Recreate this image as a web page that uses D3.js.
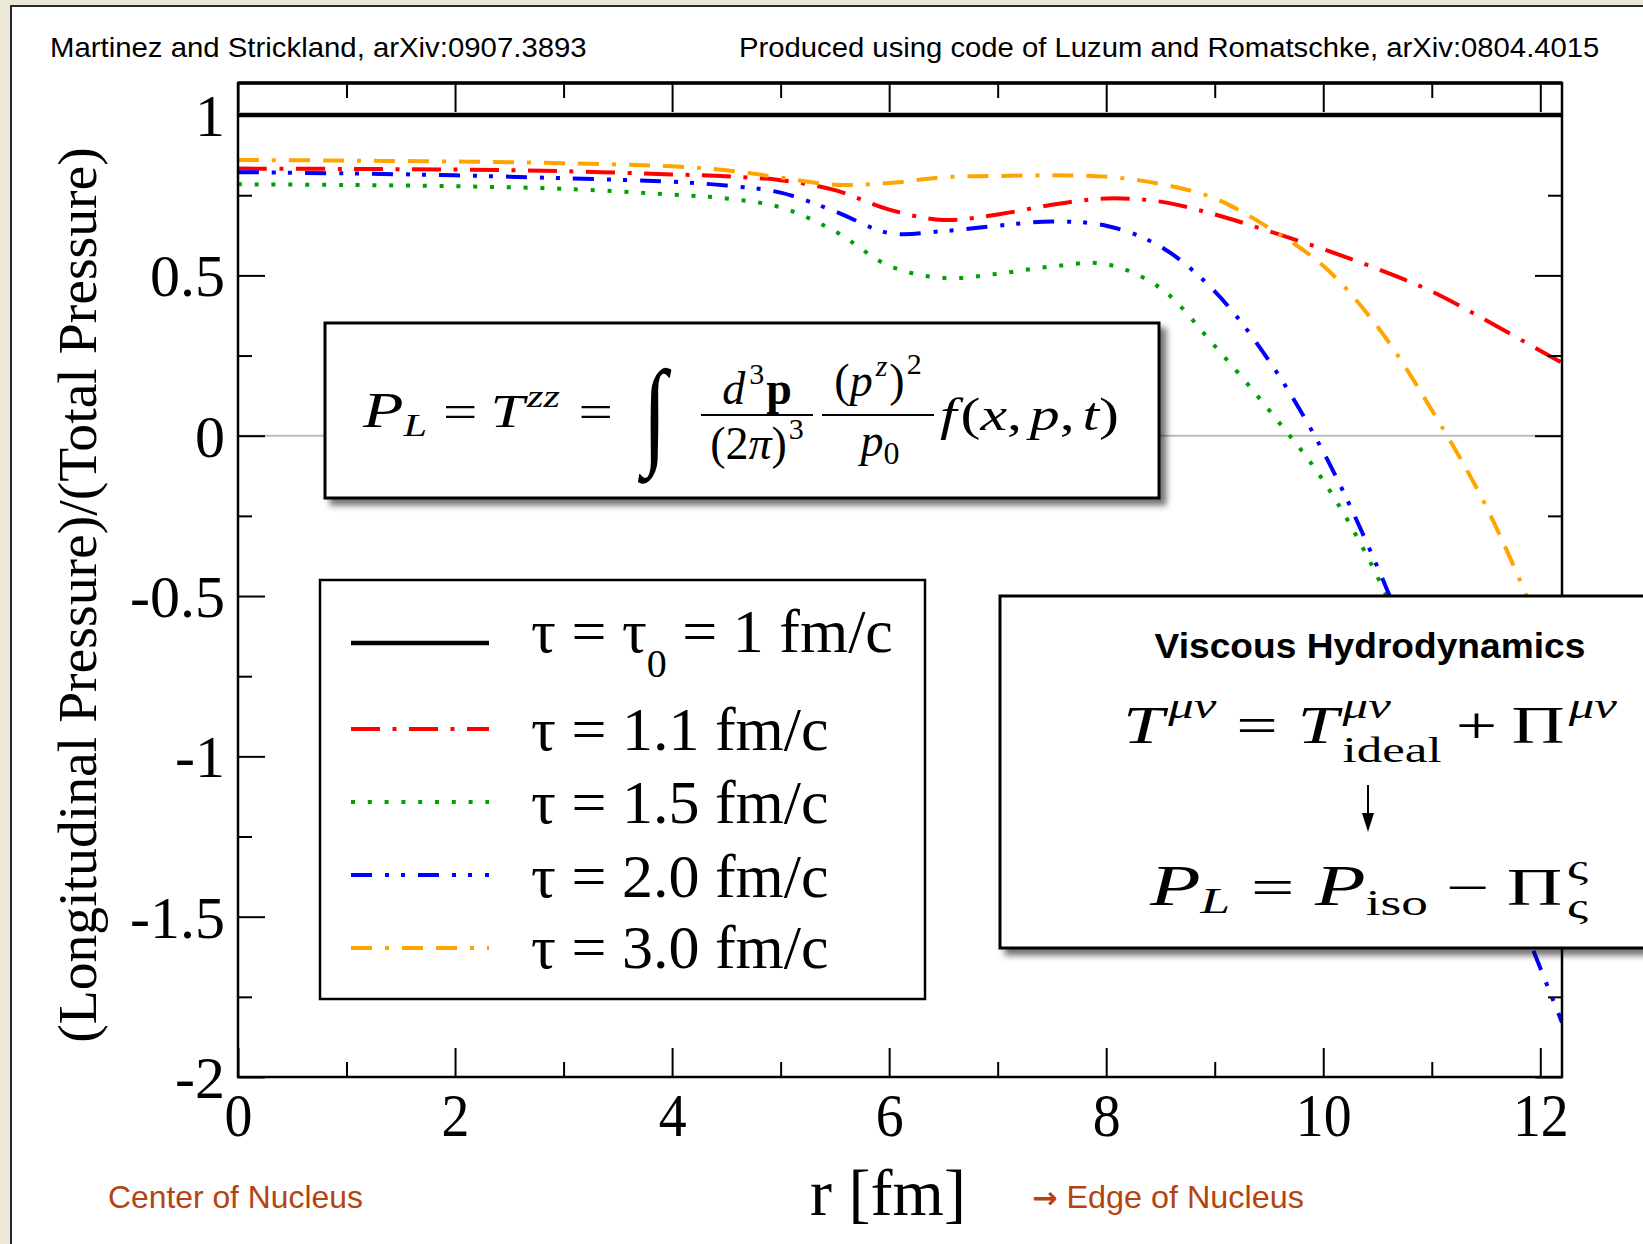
<!DOCTYPE html>
<html>
<head>
<meta charset="utf-8">
<script src="https://cdn.jsdelivr.net/npm/d3@7"></script>
<style>
  body { margin: 0; background: #fff; }
  svg { display: block; }
</style>
</head>
<body>
<svg id="chart" width="1643" height="1244"></svg>
<script>
// ---- data: ratio of longitudinal to total pressure vs. radius r [fm] ----
const radius = [0, 1, 2, 3, 4, 4.5, 5, 5.5, 6, 6.5, 7, 7.5, 8, 8.5, 9, 9.5, 10, 10.5, 11, 11.5, 12, 12.2];
const radiusTau10 = [0, 12.2];
const ratioTau10 = [1, 1];
const ratioTau11 = [0.833, 0.832, 0.830, 0.825, 0.815, 0.809, 0.797, 0.766, 0.705, 0.673, 0.690, 0.720, 0.740, 0.730, 0.690, 0.638, 0.582, 0.520, 0.450, 0.360, 0.265, 0.228];
const radiusTau15 = [0, 1, 2, 3, 4, 4.5, 5, 5.5, 6, 6.5, 7, 7.5, 8, 8.5, 9, 9.5, 10, 10.5, 11, 11.5];
const ratioTau15 = [0.784, 0.782, 0.778, 0.770, 0.752, 0.740, 0.712, 0.638, 0.530, 0.492, 0.505, 0.528, 0.535, 0.460, 0.280, 0.080, -0.140, -0.440, -0.850, -1.350];
const ratioTau20 = [0.822, 0.818, 0.812, 0.803, 0.792, 0.780, 0.758, 0.700, 0.632, 0.638, 0.655, 0.668, 0.655, 0.590, 0.450, 0.234, -0.050, -0.410, -0.830, -1.240, -1.660, -1.830];
const ratioTau30 = [0.860, 0.858, 0.855, 0.850, 0.840, 0.828, 0.805, 0.783, 0.788, 0.806, 0.810, 0.812, 0.808, 0.785, 0.740, 0.648, 0.530, 0.340, 0.080, -0.220, -0.600, -0.760];

const tauValues = ["1", "1.1", "1.5", "2.0", "3.0"];

// axis ticks
const xMajor = [0, 2, 4, 6, 8, 10, 12];
const xMinor = [1, 3, 5, 7, 9, 11];
const xTickLabels = ["0", "2", "4", "6", "8", "10", "12"];
const yMajor = [-2, -1.5, -1, -0.5, 0, 0.5, 1];
const yMinor = [-1.75, -1.25, -0.75, -0.25, 0.25, 0.75];
const yTickLabels = ["-2", "-1.5", "-1", "-0.5", "0", "0.5", "1"];

// ---- styles ----
const seriesColors = ["#000000", "#ff0000", "#00a000", "#0000ff", "#ffa500"];
const seriesDashes = [null, "29,12.5,4,12.5", "4,12.8", "21,13,4,12,4,13", "21,13,4,13,21,13"];
const seriesWidths = [4.5, 4, 4, 4, 4];
const SERIF = "'Liberation Serif', 'Times New Roman', serif";
const SANS = "'Liberation Sans', Arial, sans-serif";

const series = [
  { r: radiusTau10, v: ratioTau10 },
  { r: radius, v: ratioTau11 },
  { r: radiusTau15, v: ratioTau15 },
  { r: radius, v: ratioTau20 },
  { r: radius, v: ratioTau30 }
];

const W = 1643, H = 1244;
const M = { left: 238, right: 1562, top: 83, bottom: 1077 };
const x = d3.scaleLinear().domain([0, 12.2]).range([M.left, M.right]);
const y = d3.scaleLinear().domain([-2, 1.1]).range([M.bottom, M.top]);

const svg = d3.select("#chart");
const defs = svg.append("defs");
const shadow = defs.append("filter").attr("id", "shadow")
  .attr("x", "-5%").attr("y", "-10%").attr("width", "115%").attr("height", "130%");
shadow.append("feDropShadow").attr("dx", 6).attr("dy", 6).attr("stdDeviation", 3)
  .attr("flood-color", "#000").attr("flood-opacity", 0.55);
defs.append("clipPath").attr("id", "plotClip").append("rect")
  .attr("x", M.left).attr("y", M.top)
  .attr("width", M.right - M.left).attr("height", M.bottom - M.top);

// page background and panel
svg.append("rect").attr("width", W).attr("height", H).attr("fill", "#ece9d8");
svg.append("rect").attr("x", 11).attr("y", 6).attr("width", W).attr("height", H)
  .attr("fill", "#fff").attr("stroke", "#2a2a2a").attr("stroke-width", 2);

// helper: text scaled horizontally to a target width
function fitText(parent, str, px, py, targetW, attrs, rotate) {
  const g = parent.append("g");
  const t = g.append("text").attr("x", 0).attr("y", 0).text(str);
  Object.entries(attrs).forEach(([k, v]) => t.attr(k, v));
  const w = t.node().getComputedTextLength();
  const sx = targetW ? targetW / w : 1;
  g.attr("transform", `translate(${px},${py})` + (rotate ? ` rotate(${rotate})` : "") + ` scale(${sx},1)`);
  return g;
}

// header notes
fitText(svg, "Martinez and Strickland, arXiv:0907.3893", 50, 57, 537,
  { "font-family": SANS, "font-size": 28, fill: "#000" });
fitText(svg, "Produced using code of Luzum and Romatschke, arXiv:0804.4015", 739, 57, 861,
  { "font-family": SANS, "font-size": 28, fill: "#000" });

// zero reference line
svg.append("line").attr("x1", x(0)).attr("x2", x(12.2)).attr("y1", y(0)).attr("y2", y(0))
  .attr("stroke", "#bdbdbd").attr("stroke-width", 2);

// curves
const line = d3.line().x(d => x(d[0])).y(d => y(d[1])).curve(d3.curveCatmullRom.alpha(0.5));
const curves = svg.append("g").attr("clip-path", "url(#plotClip)");
series.forEach((s, i) => {
  const pts = s.r.map((r, j) => [r, s.v[j]]);
  curves.append("path").datum(pts).attr("d", line)
    .attr("fill", "none").attr("stroke", seriesColors[i])
    .attr("stroke-width", seriesWidths[i])
    .attr("stroke-dasharray", seriesDashes[i])
    .attr("stroke-linecap", "butt");
});

// axes (ticks point inward)
function styleAxis(g) {
  g.select(".domain").remove();
  g.selectAll("line").attr("stroke", "#000").attr("stroke-width", 2);
}
const xb = svg.append("g").attr("transform", `translate(0,${M.bottom})`)
  .call(d3.axisBottom(x).tickValues(xMajor).tickSize(-29).tickFormat((d, i) => xTickLabels[i]));
styleAxis(xb);
xb.selectAll("text").attr("font-family", SERIF).attr("font-size", 62).attr("fill", "#000")
  .attr("y", 59).attr("dy", null).attr("transform", "scale(0.9,1)");
const xbm = svg.append("g").attr("transform", `translate(0,${M.bottom})`)
  .call(d3.axisBottom(x).tickValues(xMinor).tickSize(-15).tickFormat(""));
styleAxis(xbm);
const xt = svg.append("g").attr("transform", `translate(0,${M.top})`)
  .call(d3.axisTop(x).tickValues(xMajor).tickSize(-29).tickFormat(""));
styleAxis(xt);
const xtm = svg.append("g").attr("transform", `translate(0,${M.top})`)
  .call(d3.axisTop(x).tickValues(xMinor).tickSize(-15).tickFormat(""));
styleAxis(xtm);

const yl = svg.append("g").attr("transform", `translate(${M.left},0)`)
  .call(d3.axisLeft(y).tickValues(yMajor).tickSize(-27).tickPadding(13).tickFormat((d, i) => yTickLabels[i]));
styleAxis(yl);
yl.selectAll("text").attr("font-family", SERIF).attr("font-size", 60).attr("fill", "#000")
  .attr("dy", "0.34em");
const ylm = svg.append("g").attr("transform", `translate(${M.left},0)`)
  .call(d3.axisLeft(y).tickValues(yMinor).tickSize(-14).tickFormat(""));
styleAxis(ylm);
const yr = svg.append("g").attr("transform", `translate(${M.right},0)`)
  .call(d3.axisRight(y).tickValues(yMajor).tickSize(-27).tickFormat(""));
styleAxis(yr);
const yrm = svg.append("g").attr("transform", `translate(${M.right},0)`)
  .call(d3.axisRight(y).tickValues(yMinor).tickSize(-14).tickFormat(""));
styleAxis(yrm);

// frame
svg.append("rect").attr("x", M.left).attr("y", M.top)
  .attr("width", M.right - M.left).attr("height", M.bottom - M.top)
  .attr("fill", "none").attr("stroke", "#000").attr("stroke-width", 2.5);
svg.append("line").attr("x1", M.left).attr("x2", M.right).attr("y1", M.top).attr("y2", M.top)
  .attr("stroke", "#000").attr("stroke-width", 3.5);

// axis titles
svg.append("text").attr("x", 888).attr("y", 1215).attr("text-anchor", "middle")
  .attr("font-family", SERIF).attr("font-size", 66).text("r [fm]");
fitText(svg, "(Longitudinal Pressure)/(Total Pressure)", 96, 595, 896,
  { "font-family": SERIF, "font-size": 54, "text-anchor": "middle" }, -90);

// footer notes
fitText(svg, "Center of Nucleus", 108, 1208, 255,
  { "font-family": SANS, "font-size": 32, fill: "#b5430f" });
{
  const g = svg.append("g");
  const t = g.append("text").attr("x", 0).attr("y", 0)
    .attr("font-family", SANS).attr("font-size", 32).attr("fill", "#b5430f");
  t.append("tspan").attr("font-family", "'DejaVu Sans', sans-serif").attr("font-weight", "bold")
    .attr("font-size", 30).text("\u2192");
  t.append("tspan").text(" Edge of Nucleus");
  const w = t.node().getComputedTextLength();
  g.attr("transform", `translate(1032,1208) scale(${272 / w},1)`);
}

// ---- legend ----
const lg = svg.append("g");
lg.append("rect").attr("x", 320).attr("y", 580).attr("width", 605).attr("height", 419)
  .attr("fill", "#fff").attr("stroke", "#000").attr("stroke-width", 2.5);
const legendLineY = [643, 729, 802, 875, 948];
const legendTextY = [652, 750, 823, 897, 968];
tauValues.forEach((tv, i) => {
  lg.append("line").attr("x1", 351).attr("x2", 489)
    .attr("y1", legendLineY[i]).attr("y2", legendLineY[i])
    .attr("stroke", seriesColors[i]).attr("stroke-width", seriesWidths[i])
    .attr("stroke-dasharray", seriesDashes[i]);
  const t = lg.append("text").attr("x", 531).attr("y", legendTextY[i])
    .attr("font-family", SERIF).attr("font-size", 62);
  if (i === 0) {
    t.append("tspan").text("\u03c4 = \u03c4");
    t.append("tspan").attr("font-size", 40).attr("dy", 25).text("0");
    t.append("tspan").attr("dy", -25).text(` = ${tv} fm/c`);
  } else {
    t.text(`\u03c4 = ${tv} fm/c`);
  }
});

// ---- math helper: lays items left to right, then fits to a width ----
function mathRow(parent, items, x0, base, targetW, anchorCenter) {
  const g = parent.append("g");
  let cx = 0;
  const mk = (txt, size, dy, italic, weight, fam) =>
    g.append("text").attr("x", cx).attr("y", dy || 0).text(txt)
      .attr("font-family", fam || SERIF).attr("font-size", size)
      .attr("font-style", italic ? "italic" : "normal")
      .attr("font-weight", weight || "normal");
  items.forEach(it => {
    if (it.gap !== undefined) { cx += it.gap; return; }
    if (it.sup !== undefined || it.sub !== undefined) {
      let w = 0;
      if (it.sup) w = Math.max(w, mk(it.sup, it.size, it.supDy, it.supIt).node().getComputedTextLength());
      if (it.sub) w = Math.max(w, mk(it.sub, it.subSize || it.size, it.subDy, it.subIt).node().getComputedTextLength());
      cx += w;
      return;
    }
    const t = mk(it.t, it.size, it.dy, it.it, it.w, it.fam);
    cx += t.node().getComputedTextLength() + (it.after || 0);
  });
  const sx = targetW ? targetW / cx : 1;
  const left = anchorCenter ? x0 - cx * sx / 2 : x0;
  g.attr("transform", `translate(${left},${base}) scale(${sx},1)`);
  return g;
}

// ---- kinetic-theory box ----
const fb = svg.append("g");
fb.append("rect").attr("x", 325).attr("y", 323).attr("width", 834).attr("height", 175)
  .attr("fill", "#fff").attr("stroke", "#000").attr("stroke-width", 3)
  .attr("filter", "url(#shadow)");
const FS = 46;
mathRow(fb, [
  { t: "P", size: FS + 4, it: true },
  { t: "L", size: 32, it: true, dy: 9 },
  { gap: 12 }, { t: "=", size: FS }, { gap: 10 },
  { t: "T", size: FS, it: true, after: 2 },
  { t: "zz", size: 32, it: true, dy: -20 },
  { gap: 14 }, { t: "=", size: FS }
], 363, 427, 250);
fb.append("text").attr("x", 655).attr("y", 452).attr("text-anchor", "middle")
  .attr("font-family", SERIF).attr("font-size", 118).attr("transform", "translate(655,0) scale(0.75,1) translate(-655,0)")
  .text("\u222b");
// first fraction
mathRow(fb, [
  { t: "d", size: FS, it: true, after: 4 },
  { t: "3", size: 30, dy: -20, after: 2 },
  { t: "p", size: FS, w: "bold" }
], 757, 404, null, true);
fb.append("line").attr("x1", 701).attr("x2", 813).attr("y1", 415).attr("y2", 415)
  .attr("stroke", "#000").attr("stroke-width", 2);
mathRow(fb, [
  { t: "(2", size: FS },
  { t: "\u03c0", size: FS, it: true },
  { t: ")", size: FS, after: 2 },
  { t: "3", size: 30, dy: -20 }
], 757, 459, null, true);
// second fraction
mathRow(fb, [
  { t: "(", size: FS },
  { t: "p", size: FS, it: true, after: 3 },
  { t: "z", size: 30, it: true, dy: -20, after: 2 },
  { t: ")", size: FS, after: 2 },
  { t: "2", size: 30, dy: -22 }
], 878, 396, null, true);
fb.append("line").attr("x1", 822).attr("x2", 934).attr("y1", 415).attr("y2", 415)
  .attr("stroke", "#000").attr("stroke-width", 2);
mathRow(fb, [
  { t: "p", size: FS, it: true },
  { t: "0", size: 32, dy: 8 }
], 880, 456, null, true);
mathRow(fb, [
  { t: "f", size: FS, it: true, after: 3 },
  { t: "(", size: FS },
  { t: "x", size: FS, it: true },
  { t: ",", size: FS, after: 6 },
  { t: "p", size: FS, it: true },
  { t: ",", size: FS, after: 6 },
  { t: "t", size: FS, it: true },
  { t: ")", size: FS }
], 940, 430, 179);

// ---- hydrodynamics box ----
const hb = svg.append("g");
hb.append("rect").attr("x", 1000).attr("y", 596).attr("width", 700).attr("height", 352)
  .attr("fill", "#fff").attr("stroke", "#000").attr("stroke-width", 3)
  .attr("filter", "url(#shadow)");
fitText(hb, "Viscous Hydrodynamics", 1370, 658, 431,
  { "font-family": SANS, "font-size": 35, "font-weight": "bold", "text-anchor": "middle" });
const HS = 52;
mathRow(hb, [
  { t: "T", size: HS, it: true, after: 3 },
  { sup: "\u03bc\u03bd", size: 36, supDy: -25, supIt: true },
  { gap: 14 }, { t: "=", size: HS }, { gap: 14 },
  { t: "T", size: HS, it: true, after: 3 },
  { sup: "\u03bc\u03bd", sub: "ideal", size: 36, supDy: -25, subDy: 19, supIt: true, subIt: false },
  { gap: 10 }, { t: "+", size: HS }, { gap: 10 },
  { t: "\u03a0", size: HS, after: 3 },
  { sup: "\u03bc\u03bd", size: 36, supDy: -25, supIt: true }
], 1123, 743, 494);
hb.append("line").attr("x1", 1368).attr("x2", 1368).attr("y1", 785).attr("y2", 816)
  .attr("stroke", "#000").attr("stroke-width", 2);
hb.append("path").attr("d", "M1362,813 L1374,813 L1368,832 Z").attr("fill", "#000");
mathRow(hb, [
  { t: "P", size: HS + 4, it: true },
  { t: "L", size: 36, it: true, dy: 8 },
  { gap: 14 }, { t: "=", size: HS }, { gap: 14 },
  { t: "P", size: HS + 4, it: true },
  { t: "iso", size: 36, dy: 10 },
  { gap: 12 }, { t: "\u2212", size: HS }, { gap: 12 },
  { t: "\u03a0", size: HS, after: 3 },
  { sup: "\u03c2", sub: "\u03c2", size: 36, supDy: -26, subDy: 13 }
], 1150, 905, 438);
</script>
</body>
</html>
